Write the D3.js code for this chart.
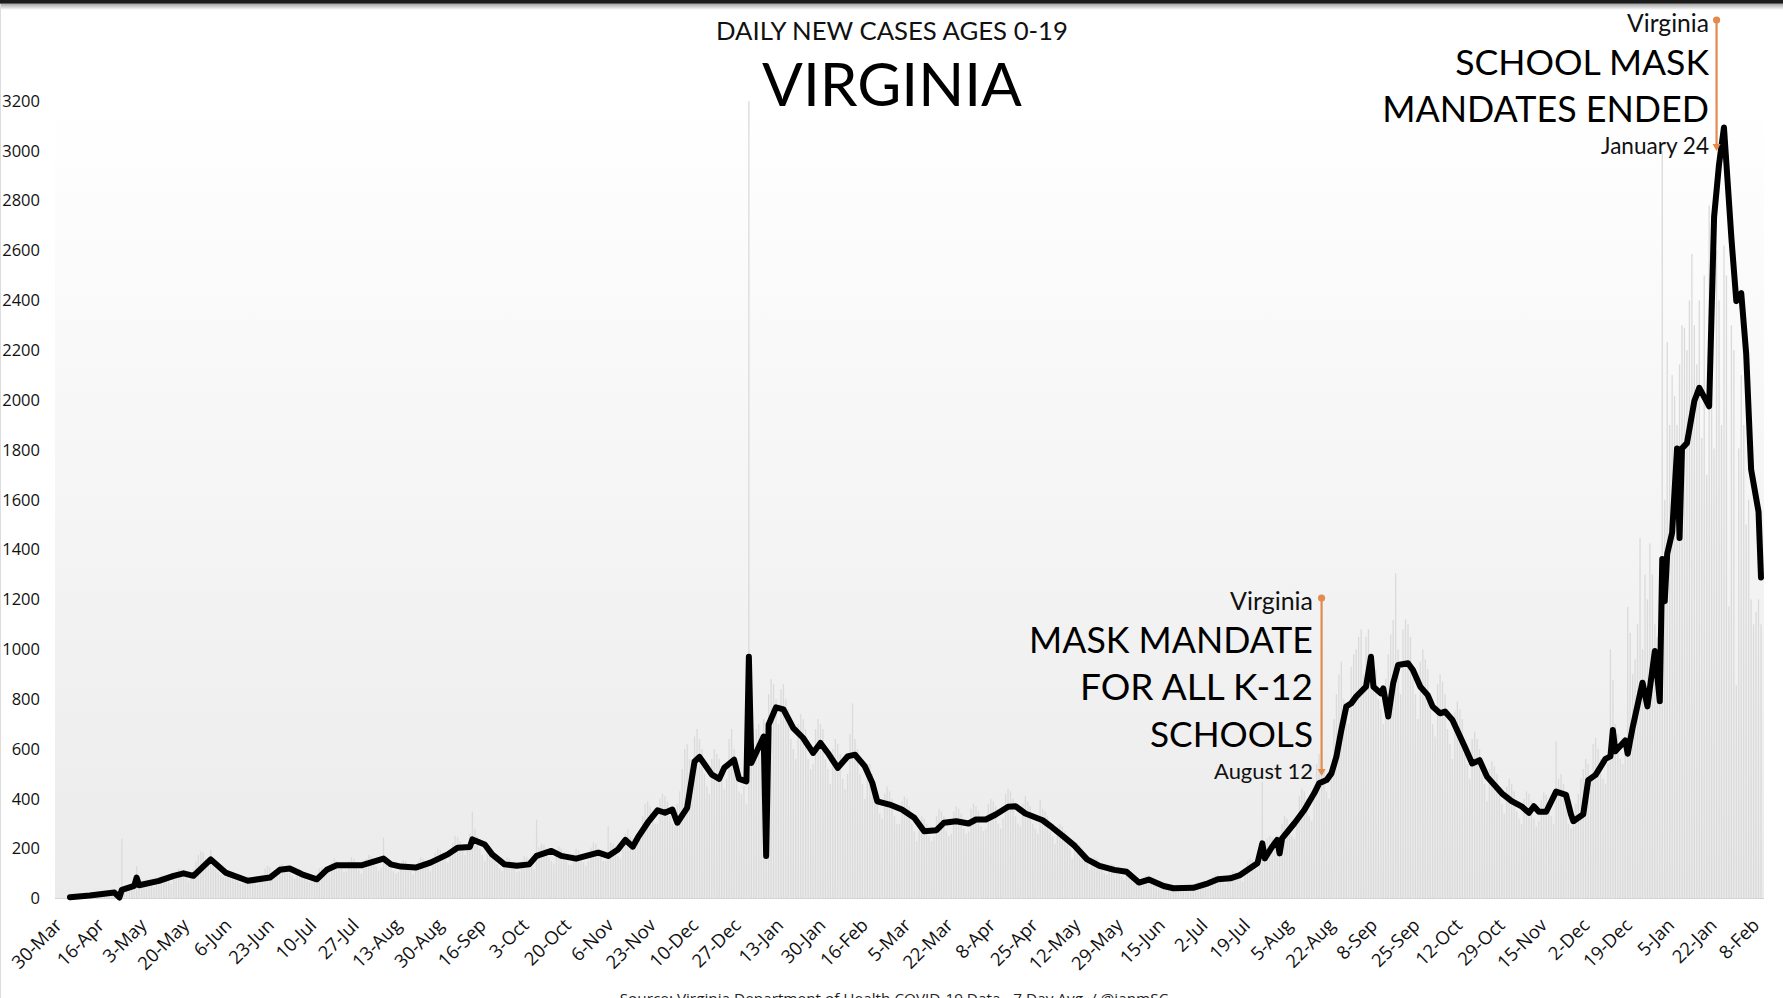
<!DOCTYPE html>
<html>
<head>
<meta charset="utf-8">
<script src="https://cdn.jsdelivr.net/npm/d3@7"></script>
<style>
  html, body { margin: 0; padding: 0; background: #fff; overflow: hidden; }
  svg { display: block; }
</style>
</head>
<body>
<svg id="chart" width="1783" height="998"></svg>
<script>
// first day of the series (a Monday)
const START = "2020-03-30";

// daily new cases, ages 0-19, one value per day from START (grey bars)
const dailyCases = [
  4,6,9,10,11,8,6,           12,14,18,19,17,14,11,
  18,24,28,27,26,20,4,       240,30,52,55,50,40,130,
  48,66,72,70,64,52,45,      64,86,95,92,88,70,58,
  80,108,120,116,106,84,72,  84,118,150,175,190,185,160,
  150,195,150,120,105,95,88, 85,105,110,96,90,72,60,
  62,82,88,84,78,62,55,      66,95,120,130,125,100,90,
  100,135,140,132,128,105,90, 80,110,118,100,95,72,66,
  68,88,100,120,125,110,95,  112,145,160,150,140,120,105,
  110,150,165,158,140,115,100, 120,160,175,170,160,130,112,
  125,244,150,140,130,110,100, 105,140,155,150,135,110,95,
  112,150,165,160,150,125,110, 140,185,200,195,185,160,145,
  170,225,250,245,230,200,175, 195,260,348,280,250,200,175,
  150,200,210,190,170,140,120, 110,150,165,160,145,120,105,
  110,150,170,165,150,125,115, 317,205,220,215,200,165,150,
  140,195,210,200,185,150,135, 135,180,200,195,180,145,130,
  150,205,225,220,200,165,150, 150,290,225,220,210,170,160,
  200,260,280,250,240,210,220, 260,330,380,390,370,320,300,
  300,400,420,410,390,330,300, 290,380,430,520,600,620,560,
  520,650,680,640,600,500,450, 420,560,600,580,560,480,440,
  480,640,680,600,480,430,420, 450,380,3200,560,620,680,700,
  650,720,480,820,880,860,800, 700,840,860,800,760,640,600,
  560,700,740,720,680,560,520, 540,680,720,700,680,560,520,
  460,600,640,620,580,480,440, 500,660,783,640,600,500,460,
  400,520,540,500,460,380,340, 320,420,450,430,400,330,300,
  300,390,410,400,370,300,270, 230,300,330,320,300,250,230,
  250,330,360,350,330,270,250, 260,350,370,360,340,280,260,
  270,360,380,370,350,290,270, 280,380,400,390,370,300,280,
  320,420,440,430,400,330,300, 290,380,410,390,370,300,280,
  260,397,360,350,330,270,250, 220,290,300,290,270,220,200,
  160,210,225,215,200,160,145, 115,155,165,160,145,115,100,
  95,130,140,135,125,100,88,  75,105,110,105,95,75,65,
  62,85,92,88,80,65,56,       40,55,60,58,52,40,35,
  35,48,52,50,46,36,32,       42,60,65,62,56,45,40,
  65,88,95,92,84,66,60,       75,100,110,105,96,76,68,
  105,150,160,155,140,115,130, 469,180,240,250,245,200,190,
  230,300,330,320,300,250,240, 310,410,440,430,400,330,310,
  400,540,580,560,520,430,400, 540,720,820,900,950,800,760,
  700,930,980,1000,1050,1080,900, 1050,1080,900,960,920,800,760,
  700,880,980,1060,1117,1305,1000, 820,1080,1120,1100,1050,880,820,
  720,950,1000,960,920,760,700, 650,860,900,870,820,680,620,
  560,750,790,760,720,590,540, 480,640,670,640,600,500,460,
  390,520,550,530,500,410,380, 340,450,480,460,430,350,320,
  300,400,430,420,390,320,290, 310,395,425,415,385,330,300,
  630,480,500,460,380,300,280, 290,380,420,480,520,560,540,
  470,620,644,600,560,480,460, 540,1000,877,700,660,560,540,
  620,1170,1066,900,960,1100,1447, 1000,1300,1200,1425,1300,1100,1050,
  900,3000,1600,2233,1900,2100,2017, 1900,2143,2300,2290,2200,2400,2587,
  2300,2143,2400,1848,2500,1700,2780, 2700,1806,2600,2400,1900,2620,2500,
  1172,2300,2200,855,1806,2100,1900, 1500,1600,1200,1100,1150,1200,1100
];

// 7-day average: day offset from START and value
const avgDay = [
  0,8,18,20,21,26,27,28,36,42,46,50,57,63,72,81,85,89,94,100,
  104,108,118,127,130,134,140,146,153,157,162,163,168,171,176,181,186,189,195,199,
  205,214,218,222,225,228,230,234,238,241,244,246,250,253,255,260,263,265,269,271,
  274,275,276,281,282,283,286,289,293,297,301,304,307,311,315,318,322,325,327,332,
  337,342,346,351,354,359,364,367,371,375,380,383,387,394,398,403,407,412,417,423,
  428,433,437,443,447,455,461,465,470,474,478,481,483,484,487,489,490,491,496,500,
  504,506,509,511,513,515,517,519,521,525,527,528,531,532,534,536,538,542,544,547,
  550,552,555,557,560,565,568,571,574,580,584,588,591,593,595,598,602,606,608,609,
  613,615,618,622,624,625,626,630,631,633,637,639,642,644,645,646,647,649,651,652,
  653,655,658,660,664,666,668,670,673,675,677,679,681,684,685
];
const avgCases = [
  5,12,24,4,35,51,84,53,71,91,101,91,157,104,71,84,115,120,97,77,
  115,133,133,160,137,128,124,144,177,204,207,237,217,177,137,131,137,171,191,171,
  160,184,171,197,235,208,244,304,354,344,357,304,364,550,568,497,480,524,557,480,
  470,970,544,650,171,697,767,759,684,644,584,624,584,524,570,577,530,464,390,377,
  357,324,270,274,304,310,301,317,317,337,368,370,341,314,284,244,211,157,131,115,
  107,64,76,50,41,43,61,77,81,94,121,141,221,161,208,235,181,241,302,355,
  422,462,475,502,569,676,770,783,810,850,970,850,823,843,730,864,937,944,917,850,
  816,770,743,750,716,609,542,555,489,422,391,370,344,370,348,348,429,416,338,310,
  338,475,496,560,570,676,591,634,581,686,866,771,993,792,1362,1193,1383,1468,1806,1447,
  1806,1827,1996,2049,1975,2735,2946,3094,2651,2397,2429,2186,1721,1552,1288
];

const yTicks = [0,200,400,600,800,1000,1200,1400,1600,1800,2000,2200,2400,2600,2800,3000,3200];
const xTickStep = 17;
const xTickLabels = [
  "30-Mar","16-Apr","3-May","20-May","6-Jun","23-Jun","10-Jul","27-Jul","13-Aug","30-Aug",
  "16-Sep","3-Oct","20-Oct","6-Nov","23-Nov","10-Dec","27-Dec","13-Jan","30-Jan","16-Feb",
  "5-Mar","22-Mar","8-Apr","25-Apr","12-May","29-May","15-Jun","2-Jul","19-Jul","5-Aug",
  "22-Aug","8-Sep","25-Sep","12-Oct","29-Oct","15-Nov","2-Dec","19-Dec","5-Jan","22-Jan","8-Feb"
];

const chartKicker = "DAILY NEW CASES AGES 0-19";
const chartTitle = "VIRGINIA";
const sourceNote = "Source: Virginia Department of Health COVID-19 Data - 7 Day Avg. / @ianmSC";

// event notes; "at" is where the marker sits on the time axis
const notes = [
  { at: "2021-08-19", place: "Virginia", lines: ["MASK MANDATE", "FOR ALL K-12", "SCHOOLS"], when: "August 12" },
  { at: "2022-01-26", place: "Virginia", lines: ["SCHOOL MASK", "MANDATES ENDED"], when: "January 24" }
];

// ---------------------------------------------------------------
const W = 1783, H = 998;
const plot = { left: 55, right: 1764, top: 101, bottom: 898.5 };
const parse = d3.timeParse("%Y-%m-%d");
const start = parse(START);
const dayDate = i => d3.timeDay.offset(start, i);

const x = d3.scaleTime()
  .domain([start, dayDate(dailyCases.length - 1)])
  .range([70, 1761]);

// the category labels are spread a little wider than the plotted days
const xLabel = d3.scaleTime()
  .domain([start, dayDate((xTickLabels.length - 1) * xTickStep)])
  .range([66.5, 1764]);

const y = d3.scaleLinear()
  .domain([0, 3200])
  .range([plot.bottom, plot.top]);

const svg = d3.select("#chart");
const defs = svg.append("defs");

const bg = defs.append("linearGradient").attr("id", "plotBg")
  .attr("x1", 0).attr("y1", 0).attr("x2", 0).attr("y2", 1);
bg.append("stop").attr("offset", 0).attr("stop-color", "#ffffff");
bg.append("stop").attr("offset", 1).attr("stop-color", "#ebebeb");

const shade = defs.append("linearGradient").attr("id", "topShade")
  .attr("x1", 0).attr("y1", 0).attr("x2", 0).attr("y2", 1);
shade.append("stop").attr("offset", 0).attr("stop-color", "#9a9a9a");
shade.append("stop").attr("offset", 1).attr("stop-color", "#ffffff");

svg.append("rect").attr("width", W).attr("height", H).attr("fill", "#fff");

// plot area
svg.append("rect")
  .attr("x", plot.left).attr("y", plot.top)
  .attr("width", plot.right - plot.left).attr("height", plot.bottom - plot.top)
  .attr("fill", "url(#plotBg)");

// daily bars
svg.append("g")
  .selectAll("rect")
  .data(dailyCases)
  .join("rect")
    .attr("x", (d, i) => x(dayDate(i)) - 0.65)
    .attr("y", d => y(d))
    .attr("width", 1.3)
    .attr("height", d => y(0) - y(d))
    .attr("fill", "#dadada");

// baseline
svg.append("line")
  .attr("x1", plot.left).attr("x2", plot.right)
  .attr("y1", plot.bottom).attr("y2", plot.bottom)
  .attr("stroke", "#d4d4d4").attr("stroke-width", 1);

// 7 day average line
const avg = avgDay.map((d, i) => ({ date: dayDate(d), value: avgCases[i] }));
svg.append("path")
  .datum(avg)
  .attr("fill", "none")
  .attr("stroke", "#000")
  .attr("stroke-width", 6)
  .attr("stroke-linejoin", "round")
  .attr("stroke-linecap", "round")
  .attr("d", d3.line().x(d => x(d.date)).y(d => y(d.value)));

// y axis
svg.append("g")
  .attr("transform", `translate(44,0)`)
  .call(d3.axisLeft(y).tickValues(yTicks).tickSize(0).tickPadding(4).tickFormat(d3.format("d")))
  .call(g => g.select(".domain").remove())
  .call(g => g.selectAll("text")
    .attr("font-family", "'Open Sans', sans-serif")
    .attr("font-size", 16.5)
    .attr("fill", "#111"));

// x axis, labels rotated
const xTicks = xTickLabels.map((_, i) => dayDate(i * xTickStep));
svg.append("g")
  .attr("transform", `translate(0,${plot.bottom})`)
  .call(d3.axisBottom(xLabel).tickValues(xTicks).tickSize(0)
    .tickFormat((d, i) => xTickLabels[i]))
  .call(g => g.select(".domain").remove())
  .call(g => g.selectAll("text")
    .attr("x", 0).attr("y", 0).attr("dy", 0)
    .attr("transform", "translate(-4,28) rotate(-45)")
    .attr("text-anchor", "end")
    .attr("font-family", "'Open Sans', sans-serif")
    .attr("font-size", 18.5)
    .attr("fill", "#111"));

// scale a text's font size so it spans the given width
function fitWidth(sel, width) {
  const fs = parseFloat(sel.attr("font-size"));
  const len = sel.node().getComputedTextLength();
  sel.attr("font-size", fs * width / len);
  return sel;
}

const headFont = "Lato, 'Open Sans', sans-serif";

fitWidth(svg.append("text")
  .attr("x", 892).attr("y", 40)
  .attr("text-anchor", "middle")
  .attr("font-family", headFont).attr("font-size", 22)
  .attr("fill", "#111")
  .text(chartKicker), 352);

fitWidth(svg.append("text")
  .attr("x", 892).attr("y", 106)
  .attr("text-anchor", "middle")
  .attr("font-family", headFont).attr("font-size", 60)
  .attr("fill", "#000")
  .text(chartTitle), 260);

// annotations
const orange = "#e38a4e";
const noteLayout = [
  { top: 596, right: 1313, placeW: 83, lineW: [284, 233, 163], whenW: 99 },
  { top: 18, right: 1709, placeW: 82, lineW: [254, 327], whenW: 108 }
];

notes.forEach((n, k) => {
  const L = noteLayout[k];
  const g = svg.append("g");
  const mx = x(parse(n.at));
  let base = L.top + 14;
  fitWidth(g.append("text")
    .attr("x", L.right).attr("y", base)
    .attr("text-anchor", "end")
    .attr("font-family", headFont).attr("font-size", 20)
    .attr("fill", "#111").text(n.place), L.placeW);
  base += 43;
  n.lines.forEach((t, j) => {
    fitWidth(g.append("text")
      .attr("x", L.right).attr("y", base)
      .attr("text-anchor", "end")
      .attr("font-family", headFont).attr("font-size", 34)
      .attr("fill", "#000").text(t), L.lineW[j]);
    base += 47;
  });
  base -= 15;
  fitWidth(g.append("text")
    .attr("x", L.right).attr("y", base)
    .attr("text-anchor", "end")
    .attr("font-family", headFont).attr("font-size", 19)
    .attr("fill", "#111").text(n.when), L.whenW);

  const y0 = L.top + 2, y1 = base - 3;
  g.append("line")
    .attr("x1", mx).attr("x2", mx)
    .attr("y1", y0).attr("y2", y1 - 5)
    .attr("stroke", orange).attr("stroke-width", 2.2);
  g.append("circle").attr("cx", mx).attr("cy", y0).attr("r", 3.6).attr("fill", orange);
  g.append("path")
    .attr("d", `M${mx - 4},${y1 - 7}L${mx + 4},${y1 - 7}L${mx},${y1}Z`)
    .attr("fill", orange);
});

// source line, cut by the bottom edge as in the original
fitWidth(svg.append("text")
  .attr("x", 894).attr("y", 1004)
  .attr("text-anchor", "middle")
  .attr("font-family", "'Open Sans', sans-serif").attr("font-size", 15)
  .attr("fill", "#222")
  .text(sourceNote), 549);

// dark strip at the very top and left border
svg.append("rect").attr("x", 0).attr("y", 3).attr("width", W).attr("height", 7).attr("fill", "url(#topShade)");
svg.append("rect").attr("x", 0).attr("y", 0).attr("width", W).attr("height", 3.5).attr("fill", "#1b1b1b");
svg.append("line").attr("x1", 0.5).attr("x2", 0.5).attr("y1", 4).attr("y2", H).attr("stroke", "#dddddd");
</script>
</body>
</html>
